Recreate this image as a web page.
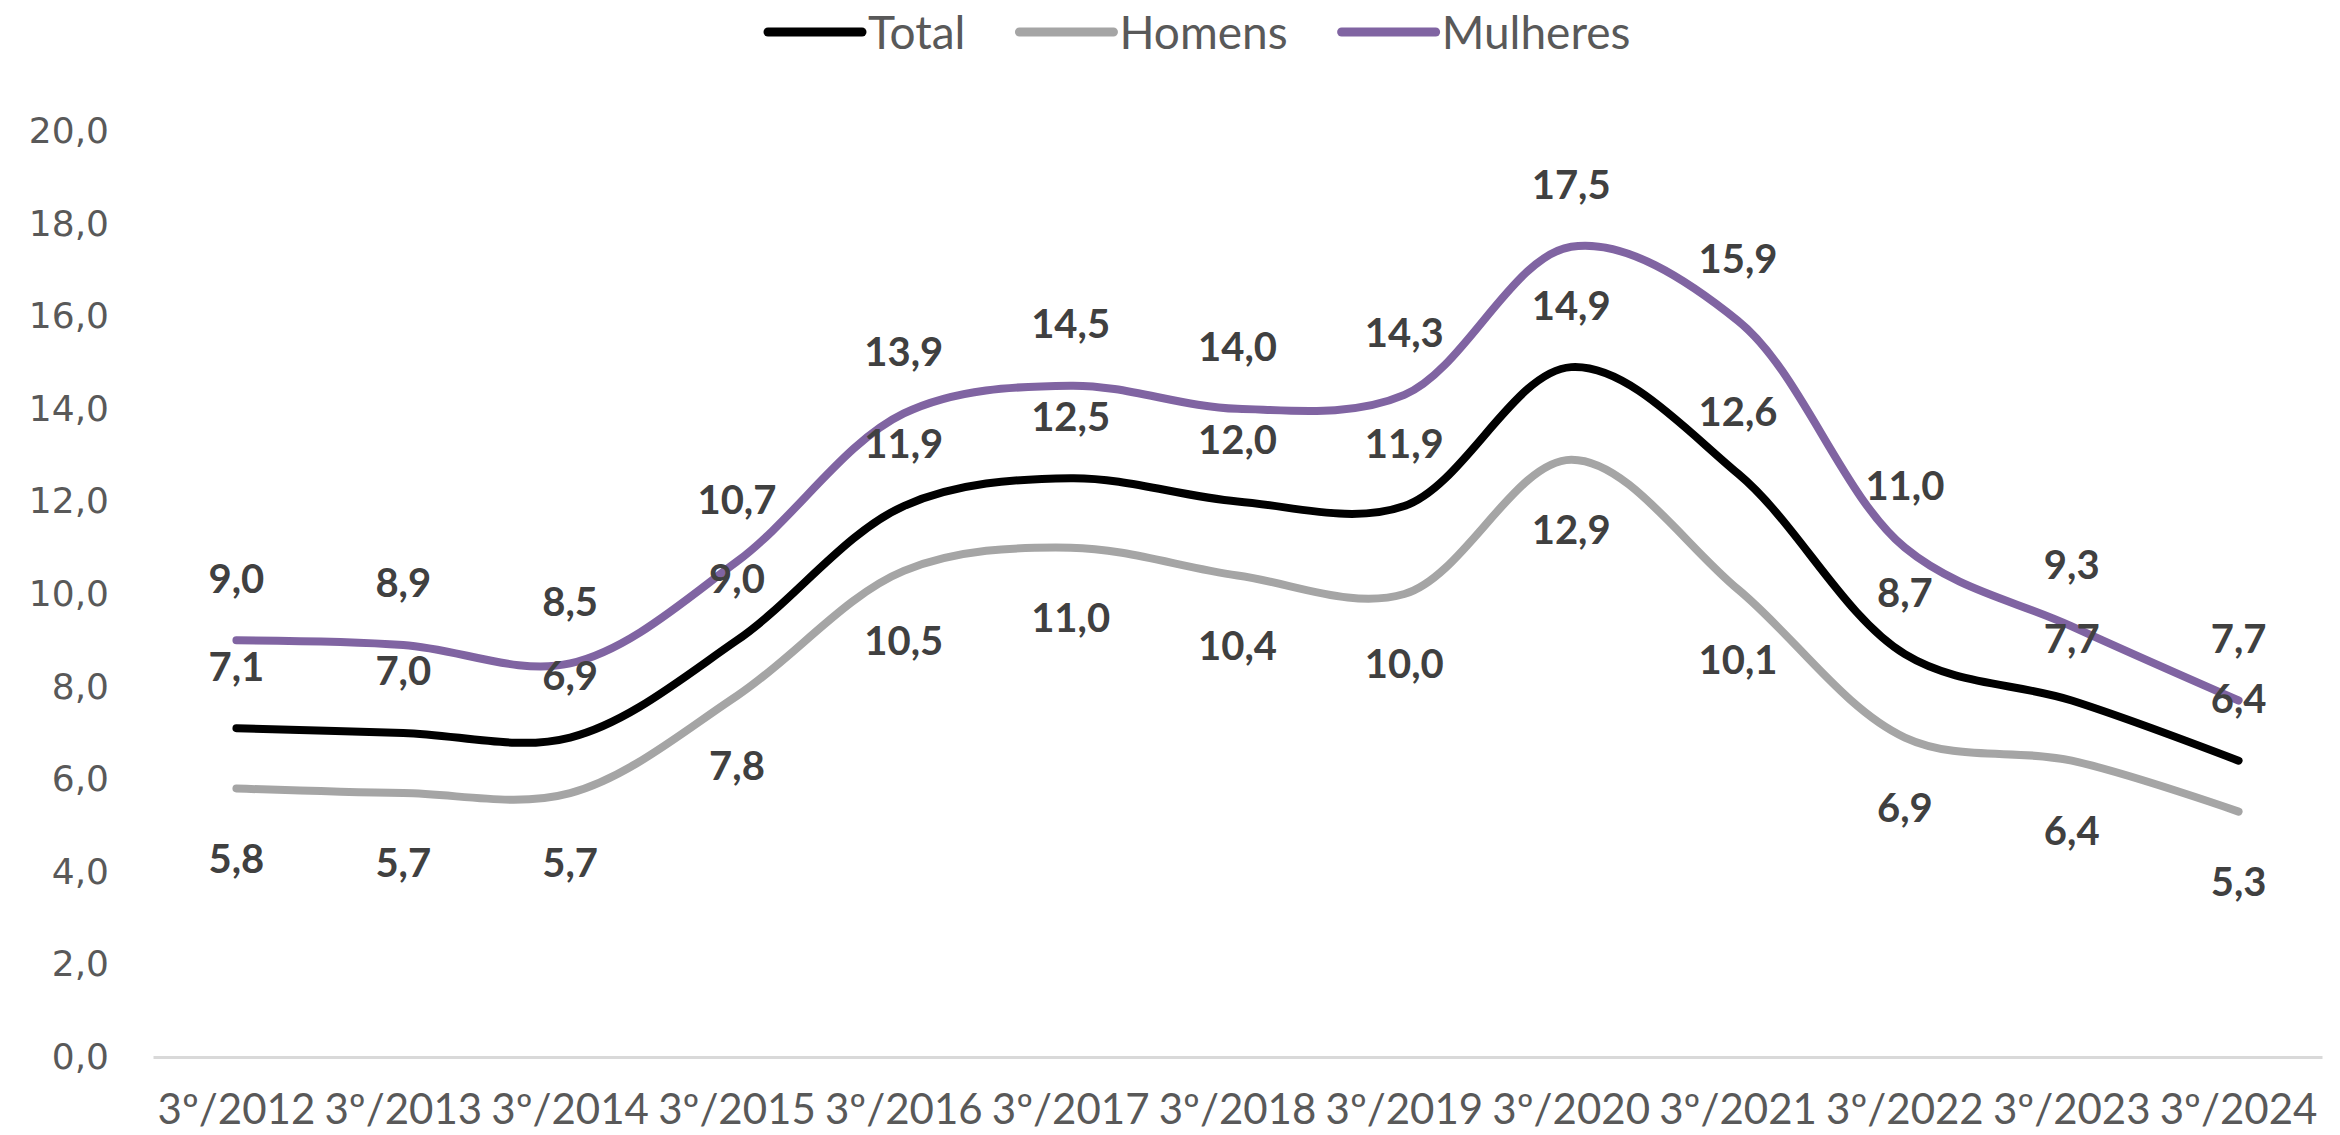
<!DOCTYPE html>
<html>
<head>
<meta charset="utf-8">
<script src="https://cdn.jsdelivr.net/npm/d3@7"></script>
<style>
  body { margin: 0; background: #fff; }
  svg { display: block; }
</style>
</head>
<body>
<div id="chart"></div>
<script>
var categories = ['3º/2012', '3º/2013', '3º/2014', '3º/2015', '3º/2016', '3º/2017', '3º/2018',
  '3º/2019', '3º/2020', '3º/2021', '3º/2022', '3º/2023', '3º/2024']

var total = [7.1, 7.0, 6.9, 9.0, 11.9, 12.5, 12.0, 11.9, 14.9, 12.6, 8.7, 7.7, 6.4]
var homens = [5.8, 5.7, 5.7, 7.8, 10.5, 11.0, 10.4, 10.0, 12.9, 10.1, 6.9, 6.4, 5.3]
var mulheres = [9.0, 8.9, 8.5, 10.7, 13.9, 14.5, 14.0, 14.3, 17.5, 15.9, 11.0, 9.3, 7.7]

var yTicks = [0, 2, 4, 6, 8, 10, 12, 14, 16, 18, 20]

var series = [
  { name: 'Total', values: total, color: '#000000', label: 'above' },
  { name: 'Homens', values: homens, color: '#a5a5a5', label: 'below' },
  { name: 'Mulheres', values: mulheres, color: '#8064a2', label: 'above' }
]

var width = 2340
var height = 1135
var textFont = 'Lato, "Open Sans", sans-serif'

var svg = d3
  .select('#chart')
  .append('svg')
  .attr('width', width)
  .attr('height', height)

var x = d3
  .scaleBand()
  .domain(categories)
  .range([153, 2322])

var y = d3
  .scaleLinear()
  .domain([0, 20])
  .range([1057, 131])

function cx(d) {
  return x(d) + x.bandwidth() / 2
}

var fmt = d3.format('.1f')
function comma(v) {
  return fmt(v).replace('.', ',')
}

// y axis, labels only
var yAxis = svg
  .append('g')
  .attr('transform', 'translate(109,0)')
  .call(
    d3
      .axisLeft(y)
      .tickValues(yTicks)
      .tickSize(0)
      .tickPadding(0)
      .tickFormat(comma)
  )
yAxis.select('.domain').remove()
yAxis
  .selectAll('text')
  .attr('font-family', '"DejaVu Sans", Verdana, sans-serif')
  .attr('font-size', 36)
  .attr('fill', '#595959')

// x axis
var xAxis = svg
  .append('g')
  .attr('transform', 'translate(0,1057)')
  .call(
    d3
      .axisBottom(x)
      .tickSize(0)
      .tickSizeOuter(0)
      .tickPadding(37)
  )
xAxis
  .select('.domain')
  .attr('stroke', '#d9d9d9')
  .attr('stroke-width', 3)
xAxis
  .selectAll('text')
  .attr('font-family', textFont)
  .attr('font-size', 42)
  .attr('fill', '#595959')

var line = d3
  .line()
  .x((d, i) => cx(categories[i]))
  .y(d => y(d))
  .curve(d3.curveCatmullRom)

var plot = svg.append('g')

plot
  .selectAll('.series')
  .data(series)
  .enter()
  .append('path')
  .attr('class', 'series')
  .attr('d', d => line(d.values))
  .attr('fill', 'none')
  .attr('stroke', d => d.color)
  .attr('stroke-width', 8)
  .attr('stroke-linecap', 'round')
  .attr('stroke-linejoin', 'round')

// data labels
series.forEach(s => {
  plot
    .selectAll('.lbl-' + s.name)
    .data(s.values)
    .enter()
    .append('text')
    .attr('class', 'lbl-' + s.name)
    .attr('x', (d, i) => cx(categories[i]))
    .attr('y', d => y(d) + (s.label === 'above' ? -62 : 70))
    .attr('dy', '0.36em')
    .attr('text-anchor', 'middle')
    .attr('font-family', textFont)
    .attr('font-weight', 700)
    .attr('font-size', 40)
    .attr('fill', '#404040')
    .text(comma)
})

// legend
var legend = svg.append('g').attr('transform', 'translate(764,32)')
var lx = 0
series.forEach(s => {
  var g = legend.append('g').attr('transform', 'translate(' + lx + ',0)')
  g.append('line')
    .attr('x1', 4)
    .attr('x2', 98)
    .attr('stroke', s.color)
    .attr('stroke-width', 9)
    .attr('stroke-linecap', 'round')
  var t = g
    .append('text')
    .attr('x', 104)
    .attr('dy', '0.36em')
    .attr('font-family', textFont)
    .attr('font-size', 46)
    .attr('fill', '#595959')
    .text(s.name)
  lx += 104 + t.node().getComputedTextLength() + 50
})
</script>
</body>
</html>
